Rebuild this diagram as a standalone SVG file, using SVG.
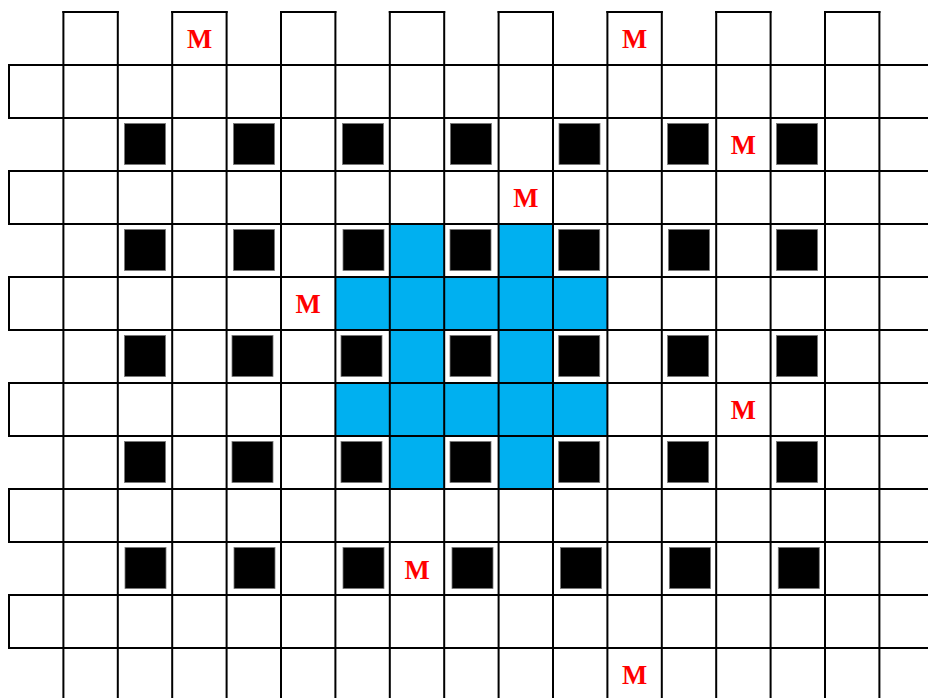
<svg xmlns="http://www.w3.org/2000/svg" width="928" height="698" viewBox="0 0 928 698">
<style>
.bg{fill:#ffffff}
.blue{fill:#00B0F0}
.grid{fill:none;stroke:#000;stroke-width:2;stroke-linecap:square}
.pillar{fill:#000;stroke:#777;stroke-width:0.8}
.m{font-family:"Liberation Serif","Times New Roman",serif;font-weight:bold;font-size:26.7px;fill:#FF0000;text-anchor:middle}
</style>
<rect class="bg" x="0" y="0" width="928" height="698"/>
<g id="blue-zone">
<rect class="blue" x="389.8" y="224" width="54.4" height="53"/>
<rect class="blue" x="498.6" y="224" width="54.4" height="53"/>
<rect class="blue" x="335.4" y="277" width="272" height="53"/>
<rect class="blue" x="389.8" y="330" width="54.4" height="53"/>
<rect class="blue" x="498.6" y="330" width="54.4" height="53"/>
<rect class="blue" x="335.4" y="383" width="272" height="53"/>
<rect class="blue" x="389.8" y="436" width="54.4" height="53"/>
<rect class="blue" x="498.6" y="436" width="54.4" height="53"/>
</g>
<g id="grid">
<path class="grid" d="M63.4 12H117.8 M172.2 12H226.6 M281 12H335.4 M389.8 12H444.2 M498.6 12H553 M607.4 12H661.8 M716.2 12H770.6 M825 12H879.4"/>
<path class="grid" d="M9 65H930 M9 118H930 M9 171H930 M9 224H930 M9 277H930 M9 330H930 M9 383H930 M9 436H930 M9 489H930 M9 542H930 M9 595H930 M9 648H930"/>
<path class="grid" d="M9 65V118 M9 171V224 M9 277V330 M9 383V436 M9 489V542 M9 595V648"/>
<path class="grid" d="M63.4 12V700 M117.8 12V700 M172.2 12V700 M226.6 12V700 M281 12V700 M335.4 12V700 M389.8 12V700 M444.2 12V700 M498.6 12V700 M553 12V700 M607.4 12V700 M661.8 12V700 M716.2 12V700 M770.6 12V700 M825 12V700 M879.4 12V700"/>
</g>
<g id="pillars">
<g id="pillars-row2">
<rect class="pillar" x="124.5" y="123.5" width="41" height="41"/>
<rect class="pillar" x="233.5" y="123.5" width="41" height="41"/>
<rect class="pillar" x="342.5" y="123.5" width="41" height="41"/>
<rect class="pillar" x="450.4" y="123.5" width="41" height="41"/>
<rect class="pillar" x="559" y="123.5" width="41" height="41"/>
<rect class="pillar" x="667.6" y="123.5" width="41" height="41"/>
<rect class="pillar" x="776.5" y="123.5" width="41" height="41"/>
</g>
<g id="pillars-row4">
<rect class="pillar" x="124.5" y="229.5" width="41" height="41"/>
<rect class="pillar" x="233.5" y="229.5" width="41" height="41"/>
<rect class="pillar" x="343" y="229.5" width="41" height="41"/>
<rect class="pillar" x="450" y="229.5" width="41" height="41"/>
<rect class="pillar" x="558.7" y="229.5" width="41" height="41"/>
<rect class="pillar" x="668.5" y="229.5" width="41" height="41"/>
<rect class="pillar" x="776.5" y="229.5" width="41" height="41"/>
</g>
<g id="pillars-row6">
<rect class="pillar" x="124.5" y="335.5" width="41" height="41"/>
<rect class="pillar" x="232" y="335.5" width="41" height="41"/>
<rect class="pillar" x="341" y="335.5" width="41" height="41"/>
<rect class="pillar" x="450" y="335.5" width="41" height="41"/>
<rect class="pillar" x="558.7" y="335.5" width="41" height="41"/>
<rect class="pillar" x="667.6" y="335.5" width="41" height="41"/>
<rect class="pillar" x="776.5" y="335.5" width="41" height="41"/>
</g>
<g id="pillars-row8">
<rect class="pillar" x="124.5" y="441.5" width="41" height="41"/>
<rect class="pillar" x="232" y="441.5" width="41" height="41"/>
<rect class="pillar" x="341" y="441.5" width="41" height="41"/>
<rect class="pillar" x="450" y="441.5" width="41" height="41"/>
<rect class="pillar" x="558.7" y="441.5" width="41" height="41"/>
<rect class="pillar" x="667.6" y="441.5" width="41" height="41"/>
<rect class="pillar" x="776.5" y="441.5" width="41" height="41"/>
</g>
<g id="pillars-row10">
<rect class="pillar" x="125" y="547.5" width="41" height="41"/>
<rect class="pillar" x="234" y="547.5" width="41" height="41"/>
<rect class="pillar" x="343" y="547.5" width="41" height="41"/>
<rect class="pillar" x="452" y="547.5" width="41" height="41"/>
<rect class="pillar" x="560.5" y="547.5" width="41" height="41"/>
<rect class="pillar" x="669.5" y="547.5" width="41" height="41"/>
<rect class="pillar" x="778.3" y="547.5" width="41" height="41"/>
</g>
</g>
<g id="labels">
<text class="m" x="199.5" y="48">M</text>
<text class="m" x="634.6" y="48">M</text>
<text class="m" x="743.4" y="154">M</text>
<text class="m" x="525.8" y="207">M</text>
<text class="m" x="308.2" y="313">M</text>
<text class="m" x="743.4" y="419">M</text>
<text class="m" x="417" y="578.5">M</text>
<text class="m" x="634.6" y="684">M</text>
</g>
</svg>
